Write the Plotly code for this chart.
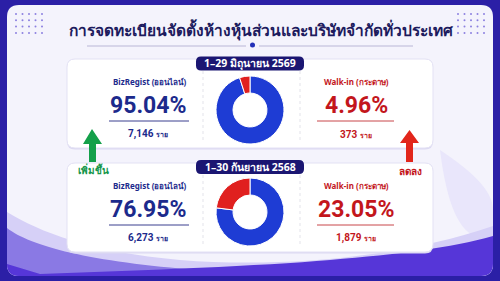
import plotly.graph_objects as go

W, H = 500, 281

title_text = "การจดทะเบียนจัดตั้งห้างหุ้นส่วนและบริษัทจำกัดทั่วประเทศ"
periods = ["1–29 มิถุนายน 2569", "1–30 กันยายน 2568"]
channels = ["BizRegist (ออนไลน์)", "Walk-in (กระดาษ)"]
online_pct = [95.04, 76.95]
walkin_pct = [4.96, 23.05]
online_count = [7146, 6273]
walkin_count = [373, 1879]
unit = "ราย"
up_label = "เพิ่มขึ้น"
down_label = "ลดลง"

NAVY = "#1c2a8c"
RED = "#c3161c"
BLUE_D = "#1e3cd4"
RED_D = "#e0201f"
FONT = "Noto Sans, Roboto, sans-serif"
NUMFONT = "Roboto, Noto Sans, sans-serif"


def rrect(x0, y0, x1, y1, r):
    return (f"M {x0+r},{y0} L {x1-r},{y0} Q {x1},{y0} {x1},{y0+r} "
            f"L {x1},{y1-r} Q {x1},{y1} {x1-r},{y1} L {x0+r},{y1} "
            f"Q {x0},{y1} {x0},{y1-r} L {x0},{y0+r} Q {x0},{y0} {x0+r},{y0} Z")


shapes = []
annotations = []

BOTTOM = "L 493,264 Q 493,276 481,276 L 19,276 Q 7,276 7,264 Z"


def add_path(path, fill, line_color=None, line_width=0, layer="below"):
    shapes.append(dict(type="path", path=path, xref="x", yref="y",
                       fillcolor=fill,
                       line=dict(color=line_color or fill, width=line_width),
                       layer=layer))


def text(x, y, s, size, color, family=FONT, bold=True, xanchor="center"):
    annotations.append(dict(x=x, y=y, xref="x", yref="y", text=(f"<b>{s}</b>" if bold else s),
                            showarrow=False, xanchor=xanchor, yanchor="middle",
                            font=dict(size=size, color=color, family=family)))


# inner panel
add_path(rrect(7, 5, 493, 276, 12), "#f4f3fc")
# soft lavender glow on right
add_path("M 440,150 C 470,170 493,190 493,210 L 493,240 C 470,240 450,230 440,150 Z", "#e9e6fb")
# bottom waves
add_path("M 7,212 C 40,232 90,252 180,260 C 280,268 400,258 493,226 " + BOTTOM, "#d6d0f7")
add_path("M 7,228 C 30,246 90,262 200,270 L 200,276 L 19,276 Q 7,276 7,264 Z", "#8a79e4")
add_path("M 40,274 C 150,270 260,266 330,260 C 400,254 450,248 493,236 " + BOTTOM, "#5636d8")

# dot grids
for cx0 in (16, 458):
    for i in range(5):
        for j in range(4):
            cx = cx0 + i * 6.5
            cy = 14 + j * 6.3
            shapes.append(dict(type="circle", xref="x", yref="y",
                               x0=cx - 1, x1=cx + 1, y0=cy - 1, y1=cy + 1,
                               fillcolor="#8c80e0", line=dict(width=0), layer="below"))

# title underline
shapes.append(dict(type="line", xref="x", yref="y", x0=87, x1=246, y0=46, y1=46,
                   line=dict(color="#b9b6d6", width=1), layer="below"))
shapes.append(dict(type="line", xref="x", yref="y", x0=259, x1=413, y0=46, y1=46,
                   line=dict(color="#b9b6d6", width=1), layer="below"))
shapes.append(dict(type="circle", xref="x", yref="y", x0=250, x1=255, y0=42.5, y1=47.5,
                   fillcolor="#2330b8", line=dict(width=0), layer="below"))
text(261, 30, title_text, 15.5, "#1d1b5e")

card_y = [(59, 148), (163, 252)]
for k in range(2):
    y0, y1 = card_y[k]
    add_path(rrect(67, y0 + 1.5, 433, y1 + 1.5, 8), "#dcd9f2")
    add_path(rrect(67, y0, 433, y1, 8), "#ffffff", "#e3e1f4", 1)
    for sx in (203, 300):
        shapes.append(dict(type="line", xref="x", yref="y", x0=sx, x1=sx, y0=y0 + 12, y1=y1 - 5,
                           line=dict(color="#e3e3ea", width=1, dash="dot"), layer="below"))
    pc = y0 + 4.5 if k == 0 else y0 + 4
    add_path(rrect(196, pc - 7, 304, pc + 7, 5), "#1b1672", layer="above")
    text(250, pc, periods[k], 10.5, "#ffffff")
    ly = y0 + 22
    text(149, ly, channels[0], 8, NAVY)
    text(148, ly + 24, f"{online_pct[k]:.2f}%", 23, NAVY, NUMFONT)
    shapes.append(dict(type="line", xref="x", yref="y", x0=109, x1=189, y0=ly + 40, y1=ly + 40,
                       line=dict(color="#3a3f8f", width=1)))
    text(148, ly + 53, f"{online_count[k]:,} <span style='font-size:7px'>{unit}</span>", 10, NAVY, NUMFONT)
    text(356, ly, channels[1], 8, RED)
    text(356, ly + 24, f"{walkin_pct[k]:.2f}%", 23, RED, NUMFONT)
    shapes.append(dict(type="line", xref="x", yref="y", x0=317, x1=394, y0=ly + 40, y1=ly + 40,
                       line=dict(color="#c8464a", width=1)))
    text(356, ly + 53, f"{walkin_count[k]:,} <span style='font-size:7px'>{unit}</span>", 10, RED, NUMFONT)

# arrows
add_path("M 89,162 L 89,144 L 83,144 L 92,129 L 102,144 L 96,144 L 96,162 Z", "#14a04a", layer="above")
add_path("M 406,162 L 406,143 L 400,143 L 409.5,130 L 419,143 L 413,143 L 413,162 Z", "#e2261b", layer="above")
text(93, 170, up_label, 10, "#15964a")
text(410, 171, down_label, 10, RED)

fig = go.Figure()
centers = [110, 212]
R = 34
for k in range(2):
    cy = centers[k]
    fig.add_trace(go.Pie(values=[online_pct[k], walkin_pct[k]], labels=["BizRegist", "Walk-in"],
                         hole=0.5, sort=False, direction="clockwise", rotation=0,
                         marker=dict(colors=[BLUE_D, RED_D], line=dict(color="#ffffff", width=1)),
                         textinfo="none", hoverinfo="label+percent", showlegend=False,
                         domain=dict(x=[(250 - R) / W, (250 + R) / W],
                                     y=[1 - (cy + R) / H, 1 - (cy - R) / H])))

fig.update_layout(
    width=W, height=H, margin=dict(l=0, r=0, t=0, b=0),
    paper_bgcolor="#2b1fa6", plot_bgcolor="rgba(0,0,0,0)",
    xaxis=dict(range=[0, W], visible=False, fixedrange=True, domain=[0, 1]),
    yaxis=dict(range=[H, 0], visible=False, fixedrange=True, domain=[0, 1]),
    shapes=shapes, annotations=annotations, showlegend=False,
)
fig.write_html("out.html")
